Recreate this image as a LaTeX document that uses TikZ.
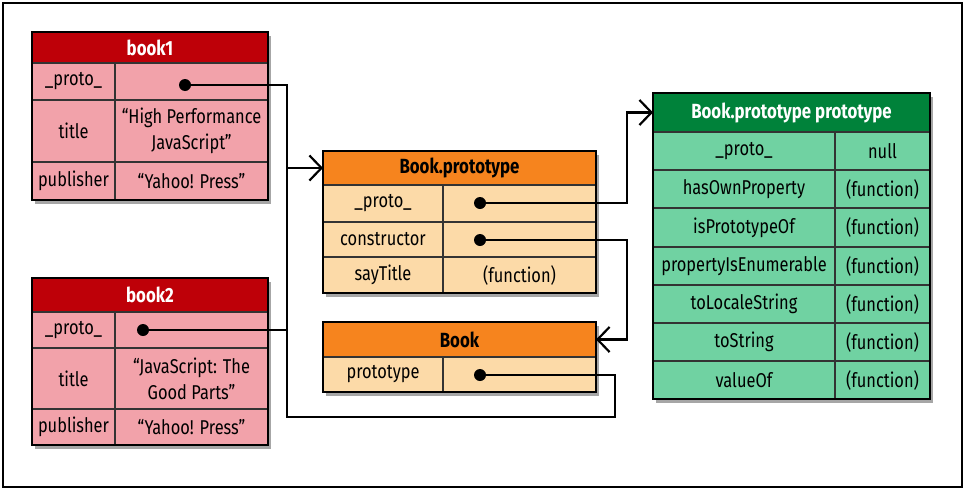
\documentclass[tikz,border=0pt]{standalone}
\usepackage{fontspec}
\setmainfont{Fira Sans}[FakeStretch=0.82]
\usetikzlibrary{arrows.meta,shadows}
\definecolor{redH}{RGB}{190,0,8}
\definecolor{pinkB}{RGB}{242,162,170}
\definecolor{orangeH}{RGB}{246,132,30}
\definecolor{peachB}{RGB}{252,218,168}
\definecolor{greenH}{RGB}{0,130,58}
\definecolor{greenB}{RGB}{112,210,162}
\newcommand\tfont{\fontsize{20}{26}\selectfont}
\newcommand\hfont{\fontsize{20.5}{26}\selectfont\bfseries}
\newcommand\mkcell[7]{\node[#1,minimum width={(#4)-(#2)},minimum height={(#5)-(#3)}] (#6) at ({((#2)+(#4))/2},{((#3)+(#5))/2}) {#7};}
\tikzset{
  every node/.style={inner sep=0pt, outer sep=0pt, font=\tfont, align=center},
  tblbox/.style={fill=white, draw=black, line width=2.4pt,
    drop shadow={shadow xshift=3pt, shadow yshift=-4pt, fill=black, opacity=0.35}},
  frame/.style={draw=black, line width=2.6pt},
  rhead/.style={rectangle, fill=redH, draw=black, line width=1.3pt, text=white, font=\hfont},
  rcell/.style={rectangle, fill=pinkB, draw=black!80, line width=1.3pt, text=black},
  ohead/.style={rectangle, fill=orangeH, draw=black, line width=1.3pt, text=black, font=\hfont},
  ocell/.style={rectangle, fill=peachB, draw=black!80, line width=1.3pt, text=black},
  ghead/.style={rectangle, fill=greenH, draw=black, line width=1.3pt, text=white, font=\hfont},
  gcell/.style={rectangle, fill=greenB, draw=black!80, line width=1.3pt, text=black},
  dot/.style={circle, fill=black, minimum size=12pt, inner sep=0pt},
  conn/.style={draw=black, line width=2.3pt},
  arr/.style={-{Straight Barb[length=12pt,width=25pt,line width=2.2pt]}}
}
\begin{document}
\begin{tikzpicture}[x=1pt,y=-1pt]
\useasboundingbox (0,0) rectangle (965,490);
\draw[line width=2pt] (3,3) rectangle (962,487);

% ---------- book1 ----------
\node[tblbox, minimum width=236, minimum height=168] (book1) at (150,116) {};
\mkcell{rhead}{32}{32}{268}{63}{b1h}{book1}
\mkcell{rcell}{32}{63}{115}{100}{b1k1}{\_proto\_}
\mkcell{rcell}{115}{63}{268}{100}{b1v1}{}
\mkcell{rcell}{32}{100}{115}{162}{b1k2}{title}
\mkcell{rcell}{115}{100}{268}{162}{b1v2}{“High Performance\\JavaScript”}
\mkcell{rcell}{32}{162}{115}{200}{b1k3}{publisher}
\mkcell{rcell}{115}{162}{268}{200}{b1v3}{“Yahoo! Press”}
\draw[frame] (book1.north west) rectangle (book1.south east);

% ---------- book2 ----------
\node[tblbox, minimum width=236, minimum height=167] (book2) at (150,361.5) {};
\mkcell{rhead}{32}{278}{268}{312}{b2h}{book2}
\mkcell{rcell}{32}{312}{115}{348}{b2k1}{\_proto\_}
\mkcell{rcell}{115}{312}{268}{348}{b2v1}{}
\mkcell{rcell}{32}{348}{115}{409}{b2k2}{title}
\mkcell{rcell}{115}{348}{268}{409}{b2v2}{“JavaScript: The\\Good Parts”}
\mkcell{rcell}{32}{409}{115}{445}{b2k3}{publisher}
\mkcell{rcell}{115}{409}{268}{445}{b2v3}{“Yahoo! Press”}
\draw[frame] (book2.north west) rectangle (book2.south east);

% ---------- Book.prototype ----------
\node[tblbox, minimum width=273, minimum height=142] (bp) at (459.5,222) {};
\mkcell{ohead}{323}{151}{596}{185}{bph}{Book.prototype}
\mkcell{ocell}{323}{185}{443}{222}{bpk1}{\_proto\_}
\mkcell{ocell}{443}{185}{596}{222}{bpv1}{}
\mkcell{ocell}{323}{222}{443}{257}{bpk2}{constructor}
\mkcell{ocell}{443}{222}{596}{257}{bpv2}{}
\mkcell{ocell}{323}{257}{443}{293}{bpk3}{sayTitle}
\mkcell{ocell}{443}{257}{596}{293}{bpv3}{(function)}
\draw[frame] (bp.north west) rectangle (bp.south east);

% ---------- Book ----------
\node[tblbox, minimum width=273, minimum height=70] (bk) at (459.5,357) {};
\mkcell{ohead}{323}{322}{596}{357}{bkh}{Book}
\mkcell{ocell}{323}{357}{443}{392}{bkk1}{prototype}
\mkcell{ocell}{443}{357}{596}{392}{bkv1}{}
\draw[frame] (bk.north west) rectangle (bk.south east);

% ---------- Book.prototype prototype ----------
\node[tblbox, minimum width=277, minimum height=306] (bpp) at (791.5,246) {};
\mkcell{ghead}{653}{93}{930}{132}{bpph}{Book.prototype prototype}
\mkcell{gcell}{653}{132}{835}{170}{pk1}{\_proto\_}
\mkcell{gcell}{835}{132}{930}{170}{pv1}{null}
\mkcell{gcell}{653}{170}{835}{208}{pk2}{hasOwnProperty}
\mkcell{gcell}{835}{170}{930}{208}{pv2}{(function)}
\mkcell{gcell}{653}{208}{835}{247}{pk3}{isPrototypeOf}
\mkcell{gcell}{835}{208}{930}{247}{pv3}{(function)}
\mkcell{gcell}{653}{247}{835}{285}{pk4}{propertyIsEnumerable}
\mkcell{gcell}{835}{247}{930}{285}{pv4}{(function)}
\mkcell{gcell}{653}{285}{835}{323}{pk5}{toLocaleString}
\mkcell{gcell}{835}{285}{930}{323}{pv5}{(function)}
\mkcell{gcell}{653}{323}{835}{361}{pk6}{toString}
\mkcell{gcell}{835}{323}{930}{361}{pv6}{(function)}
\mkcell{gcell}{653}{361}{835}{399}{pk7}{valueOf}
\mkcell{gcell}{835}{361}{930}{399}{pv7}{(function)}
\draw[frame] (bpp.north west) rectangle (bpp.south east);

% ---------- dots ----------
\node[dot] (b1d) at (185,85) {};
\node[dot] (b2d) at (143,330) {};
\node[dot] (bpd1) at (480,203) {};
\node[dot] (bpd2) at (480,240) {};
\node[dot] (bkd) at (480,375) {};

% ---------- connectors ----------
\coordinate (bus) at ([xshift=-36pt]bph.west);
\coordinate (lowR) at (615,417);
\draw[conn, arr] (b1d.center) -| (bus) -- (bph.west);
\draw[conn] (b2d.center) -| (bus);
\draw[conn] (bkd.center) -| (lowR) -| (bus);
\draw[conn, arr] (bpd1.center) -| ([xshift=-26pt]bpph.west) -- (bpph.west);
\draw[conn, arr] (bpd2.center) -| ([xshift=31pt]bkh.east) -- (bkh.east);
\end{tikzpicture}
\end{document}
